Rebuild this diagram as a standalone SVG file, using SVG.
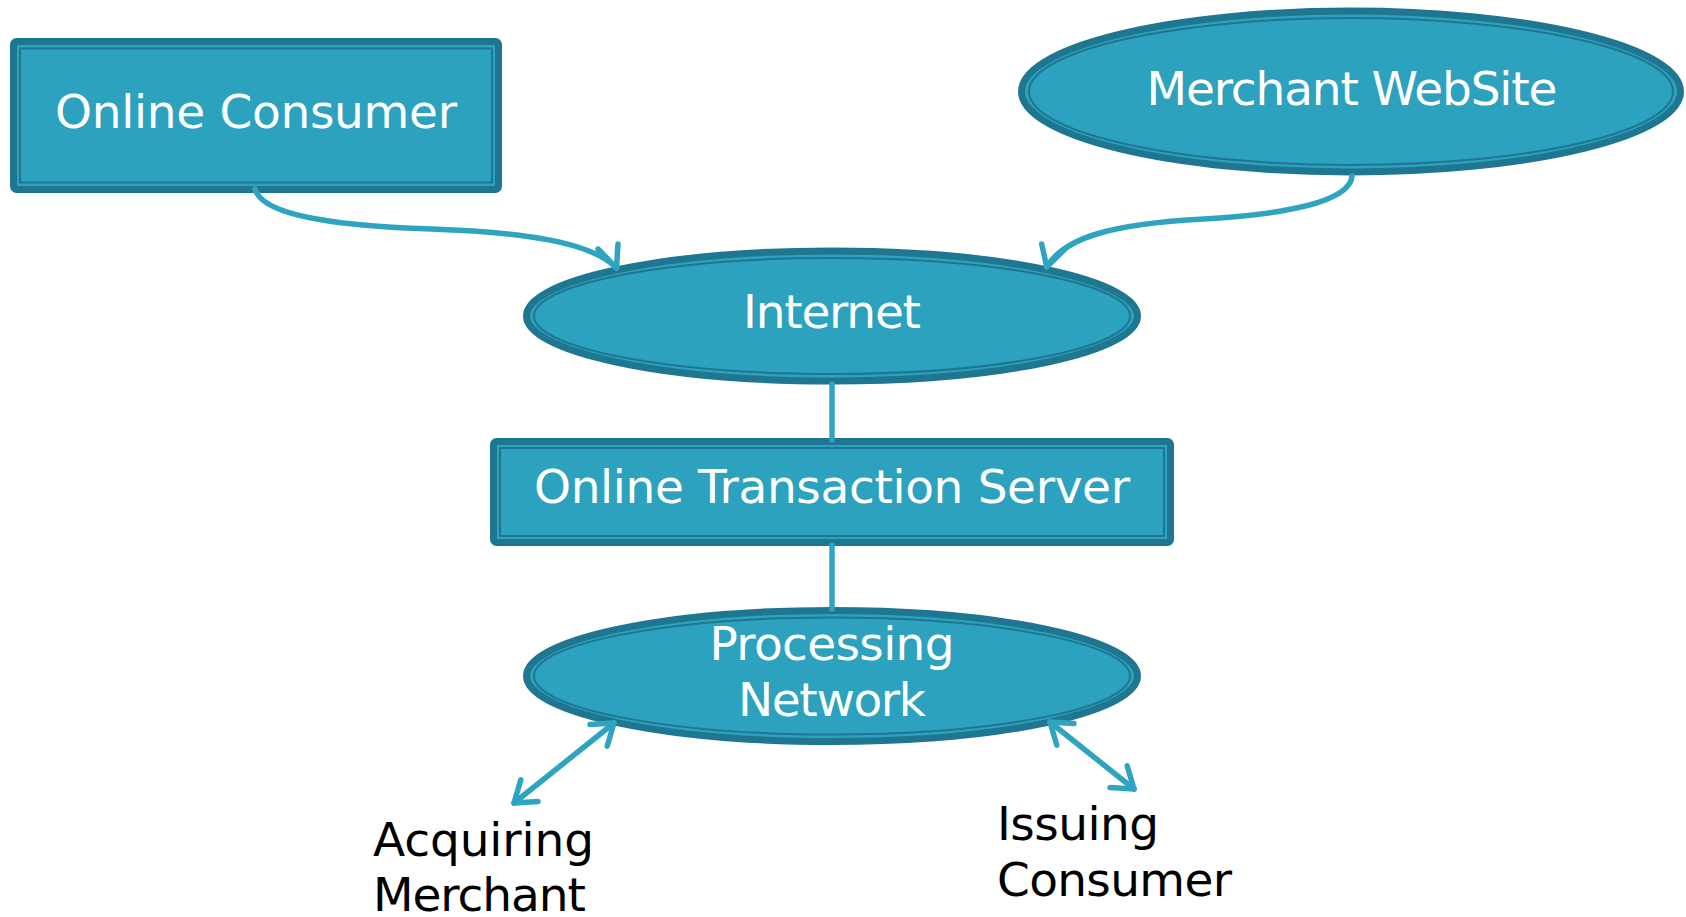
<svg xmlns="http://www.w3.org/2000/svg" width="1686" height="917" viewBox="0 0 1686 917">
  <defs>
    <style>
      .box { fill: #2CA2BF; stroke: #1F7690; stroke-width: 7; }
      .rim { fill: none; stroke: #1F7690; stroke-width: 2; }
      .label { font-family: "DejaVu Sans", "Liberation Sans", sans-serif; font-size: 47px; fill: #FFFFFF; text-anchor: middle; }
      .caption { font-family: "DejaVu Sans", "Liberation Sans", sans-serif; font-size: 47px; fill: #000000; }
      .wire { fill: none; stroke: #2EA4C1; stroke-width: 5.5; stroke-linecap: round; stroke-linejoin: round; }
    </style>
    <!-- open V arrowhead, used on both ends of the two-way links -->
    <marker id="openV" markerUnits="userSpaceOnUse" viewBox="-26 -17 30 34" markerWidth="30" markerHeight="34" refX="0" refY="0" orient="auto-start-reverse">
      <path d="M -19.7 -13.8 L 0 0 L -19.7 13.8" fill="none" stroke="#2EA4C1" stroke-width="5.5" stroke-linecap="round" stroke-linejoin="round"/>
    </marker>
  </defs>

  <rect width="1686" height="917" fill="#FFFFFF"/>

  <g id="online-consumer">
    <rect class="box" x="13.5" y="41.5" width="485" height="148" rx="3"/>
    <rect class="rim" x="20" y="48.5" width="472" height="134"/>
    <text class="label" x="256" y="128" textLength="402" lengthAdjust="spacing">Online Consumer</text>
  </g>

  <g id="merchant-website">
    <ellipse class="box" cx="1351" cy="91.5" rx="329.5" ry="80.5"/>
    <ellipse class="rim" cx="1351" cy="91.5" rx="322" ry="73.5"/>
    <text class="label" x="1352" y="105" textLength="411" lengthAdjust="spacing">Merchant WebSite</text>
  </g>

  <g id="internet">
    <ellipse class="box" cx="832" cy="316" rx="305.5" ry="65"/>
    <ellipse class="rim" cx="832" cy="316" rx="298" ry="58"/>
    <text class="label" x="832" y="328" textLength="178" lengthAdjust="spacing">Internet</text>
  </g>

  <g id="transaction-server">
    <rect class="box" x="493.5" y="441.5" width="677" height="101" rx="3"/>
    <rect class="rim" x="500" y="448" width="664" height="88"/>
    <text class="label" x="832" y="503" textLength="596" lengthAdjust="spacing">Online Transaction Server</text>
  </g>

  <g id="processing-network">
    <ellipse class="box" cx="832" cy="676" rx="305.5" ry="65.5"/>
    <ellipse class="rim" cx="832" cy="676" rx="298" ry="58.5"/>
    <text class="label" x="832" y="660" textLength="245" lengthAdjust="spacing">Processing</text>
    <text class="label" x="832" y="716" textLength="188" lengthAdjust="spacing">Network</text>
  </g>

  <g id="acquiring-merchant">
    <text class="caption" x="373" y="856" textLength="221" lengthAdjust="spacing">Acquiring</text>
    <text class="caption" x="373" y="911" textLength="213" lengthAdjust="spacing">Merchant</text>
  </g>

  <g id="issuing-consumer">
    <text class="caption" x="997" y="840" textLength="162" lengthAdjust="spacing">Issuing</text>
    <text class="caption" x="997" y="896" textLength="235" lengthAdjust="spacing">Consumer</text>
  </g>

  <g id="connectors">
    <!-- consumer to internet -->
    <path class="wire" d="M 255 189 C 262 216, 340 226, 431 229 C 522 232, 592 242, 616.5 268"/>
    <path class="wire" d="M 598 249 L 616.5 268 L 618 244"/>
    <!-- merchant site to internet -->
    <path class="wire" d="M 1352 176 C 1350 201, 1290 214, 1204 219 C 1110 224, 1064 238, 1046.7 267"/>
    <path class="wire" d="M 1065 249 L 1046.7 267 L 1041.7 244"/>
    <!-- vertical links through the server -->
    <line class="wire" x1="832" y1="384" x2="832" y2="440" stroke-linecap="butt" stroke-width="5"/>
    <line class="wire" x1="832" y1="545" x2="832" y2="609" stroke-linecap="butt" stroke-width="5"/>
    <!-- two-way links below the processing network -->
    <line class="wire" x1="614" y1="723" x2="514" y2="803" marker-start="url(#openV)" marker-end="url(#openV)"/>
    <line class="wire" x1="1050" y1="722" x2="1134" y2="789" marker-start="url(#openV)" marker-end="url(#openV)"/>
  </g>
</svg>
